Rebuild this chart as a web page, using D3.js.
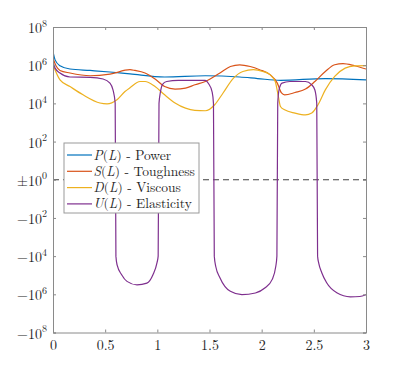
<!DOCTYPE html>
<html>
<head>
<meta charset="utf-8">
<script src="https://cdn.jsdelivr.net/npm/d3@7"></script>
<style>
  body { margin: 0; background: #fff; }
  svg { display: block; }
</style>
</head>
<body>
<svg id="chart" width="405" height="373"></svg>
<script>
// series: [L, value]
const powerP = [
  [0, 5.2e6], [0.02, 1.9e6], [0.067, 9.3e5], [0.163, 6.3e5], [0.355, 5.3e5],
  [0.546, 4.4e5], [0.738, 3.5e5], [1.07, 2.4e5], [1.46, 2.8e5], [1.79, 2.4e5],
  [1.96, 2e5], [2.18, 1.6e5], [2.61, 2e5], [3, 1.7e5]
];
const toughS = [
  [0, 2.3e6], [0.03, 9e5], [0.067, 5.3e5], [0.163, 3.9e5], [0.355, 2.8e5],
  [0.546, 3.4e5], [0.738, 5.8e5], [0.786, 5.3e5], [0.882, 3.9e5], [0.978, 1.9e5],
  [1.07, 7.6e4], [1.17, 5.6e4], [1.27, 6.3e4], [1.36, 9.4e4], [1.46, 1.4e5],
  [1.6, 3.9e5], [1.7, 8.5e5], [1.79, 1.05e6], [1.89, 8.5e5], [1.98, 5.8e5],
  [2.08, 3.2e5], [2.15, 1.15e5], [2.19, 3.5e4], [2.22, 2.8e4], [2.32, 3.7e4],
  [2.42, 5.6e4], [2.51, 1.4e5], [2.61, 4.7e5], [2.7, 1.05e6], [2.78, 1.2e6],
  [2.89, 9.3e5], [3, 6.3e5]
];
const viscD = [
  [0, 1.05e6], [0.067, 1.7e5], [0.163, 7.6e4], [0.288, 2.8e4], [0.45, 1.05e4],
  [0.518, 9.5e3], [0.613, 1.55e4], [0.69, 4.2e4], [0.738, 6.6e4], [0.834, 1.4e5],
  [0.882, 1.4e5], [0.978, 7.6e4], [1.07, 2.8e4], [1.17, 1.05e4], [1.27, 5.6e3],
  [1.36, 4.3e3], [1.46, 4.1e3], [1.55, 8.5e3], [1.63, 3.5e4], [1.73, 2.1e5],
  [1.82, 4.7e5], [1.92, 5.8e5], [2.01, 4.7e5], [2.08, 3.2e5], [2.13, 1.4e5],
  [2.16, 2.3e4], [2.18, 6.9e3], [2.22, 4.6e3], [2.32, 3.1e3], [2.42, 2.5e3],
  [2.48, 3.1e3], [2.54, 8.5e3], [2.61, 5.1e4], [2.7, 2.6e5], [2.8, 7e5],
  [2.89, 9.3e5], [3, 9.6e5]
];
const elastU = [
  [0, 1.55e6], [0.02, 7e5], [0.067, 3.9e5], [0.163, 2.4e5], [0.355, 2.3e5],
  [0.48, 1.9e5], [0.546, 1.15e5], [0.575, 5.1e4], [0.596, 1e4], [0.603, -1e4],
  [0.615, -3e4], [0.658, -9.4e4], [0.709, -2.1e5], [0.805, -3.2e5], [0.9, -2.6e5],
  [0.958, -9.4e4], [0.997, -2.2e4], [1.008, -1e4], [1.016, 1e4], [1.03, 4e4],
  [1.05, 1e5], [1.09, 1.4e5], [1.2, 1.6e5], [1.46, 1.6e5], [1.49, 1.1e5],
  [1.525, 4e4], [1.538, 1e4], [1.546, -1e4], [1.56, -3.5e4], [1.6, -1.35e5],
  [1.7, -7e5], [1.81, -1.05e6], [1.94, -8.5e5], [2.03, -4.7e5], [2.1, -1.7e5],
  [2.135, -3.5e4], [2.146, -1e4], [2.154, 1e4], [2.166, 5e4], [2.195, 1.15e5],
  [2.27, 1.4e5], [2.42, 1.4e5], [2.48, 9.4e4], [2.51, 5e4], [2.528, 1e4],
  [2.536, -1e4], [2.548, -2.5e4], [2.576, -7.4e4], [2.623, -2.5e5], [2.72, -8.3e5],
  [2.85, -1.35e6], [2.94, -1.3e6], [3, -1.05e6]
];

const seriesNames = ["P", "S", "D", "U"];
const seriesLabels = ["Power", "Toughness", "Viscous", "Elasticity"];
const seriesColors = ["#0072BD", "#D95319", "#EDB120", "#7E2F8E"];
const seriesData = [powerP, toughS, viscD, elastU];

const xTicks = [0, 0.5, 1, 1.5, 2, 2.5, 3];
const yExps = [8, 6, 4, 2, 0, -2, -4, -6, -8];

// LaTeX-look font
const FONT = '"Latin Modern Roman", "Liberation Serif", serif';

const svg = d3.select("#chart");
const plotLeft = 53, plotRight = 366, plotTop = 27, plotBottom = 332.5;

// signed log: ±10^k -> ±k, |v|<=1 -> 0
function slog(v) {
  const a = Math.abs(v);
  return a <= 1 ? 0 : Math.sign(v) * Math.log10(a);
}

const x = d3.scaleLinear().domain([0, 3]).range([plotLeft, plotRight]);
const y = d3.scaleLinear().domain([-8, 8]).range([plotBottom, plotTop]);

const axisColor = "#8a8a8a";
const textColor = "#262626";

svg.append("defs").append("clipPath").attr("id", "clip")
  .append("rect")
  .attr("x", plotLeft).attr("y", plotTop)
  .attr("width", plotRight - plotLeft).attr("height", plotBottom - plotTop);

// zero line
svg.append("line")
  .attr("x1", plotLeft).attr("x2", plotRight)
  .attr("y1", y(0)).attr("y2", y(0))
  .attr("stroke", "#404040")
  .attr("stroke-width", 1.2)
  .attr("stroke-dasharray", "6,4");

const line = d3.line()
  .x((d) => x(d[0]))
  .y((d) => y(slog(d[1])))
  .curve(d3.curveMonotoneX);

svg.append("g")
  .attr("clip-path", "url(#clip)")
  .selectAll("path")
  .data(seriesData)
  .join("path")
  .attr("d", line)
  .attr("fill", "none")
  .attr("stroke", (d, i) => seriesColors[i])
  .attr("stroke-width", 1.2);

// axes (box on, ticks inside)
const xAxis = svg.append("g")
  .attr("transform", `translate(0,${plotBottom})`)
  .call(d3.axisBottom(x).tickValues(xTicks).tickSize(-3).tickPadding(8)
    .tickFormat(d3.format("")));
xAxis.selectAll("text")
  .style("font-family", FONT)
  .style("font-size", "14px")
  .attr("fill", textColor);

svg.append("g")
  .attr("transform", `translate(0,${plotTop})`)
  .call(d3.axisTop(x).tickValues(xTicks).tickSize(-3).tickFormat(""));

svg.append("g")
  .attr("transform", `translate(${plotLeft},0)`)
  .call(d3.axisLeft(y).tickValues(yExps).tickSize(-3).tickFormat(""));

svg.append("g")
  .attr("transform", `translate(${plotRight},0)`)
  .call(d3.axisRight(y).tickValues(yExps).tickSize(-3).tickFormat(""));

svg.selectAll(".domain").attr("stroke", axisColor);
svg.selectAll(".tick line").attr("stroke", axisColor);

// y tick labels with superscripts
const yLab = svg.append("g")
  .selectAll("text")
  .data(yExps)
  .join("text")
  .attr("x", 47)
  .attr("y", (d) => y(d) + 6)
  .attr("text-anchor", "end")
  .style("font-family", FONT)
  .style("font-size", "14px")
  .attr("fill", textColor);
yLab.append("tspan")
  .text((d) => (d > 0 ? "" : d < 0 ? "\u2212" : "\u00b1") + "10");
yLab.append("tspan")
  .attr("dy", -6.5)
  .style("font-size", "10px")
  .text((d) => Math.abs(d));

// legend
const leg = svg.append("g").attr("transform", "translate(64,143)");
leg.append("rect")
  .attr("width", 135).attr("height", 70)
  .attr("fill", "#fff")
  .attr("stroke", "#9a9a9a")
  .attr("stroke-width", 1);

const rows = leg.selectAll("g.row")
  .data(seriesNames)
  .join("g")
  .attr("class", "row")
  .attr("transform", (d, i) => `translate(0,${12 + i * 16.3})`);

rows.append("line")
  .attr("x1", 3).attr("x2", 28)
  .attr("stroke", (d, i) => seriesColors[i])
  .attr("stroke-width", 1.2);

const lt = rows.append("text")
  .attr("x", 29.5)
  .attr("y", 4.5)
  .style("font-family", FONT)
  .style("font-size", "13.5px")
  .attr("fill", textColor);
lt.append("tspan").style("font-style", "italic").text((d) => d);
lt.append("tspan").text("(");
lt.append("tspan").style("font-style", "italic").text("L");
lt.append("tspan").text((d, i) => ") - " + seriesLabels[i]);
</script>
</body>
</html>
